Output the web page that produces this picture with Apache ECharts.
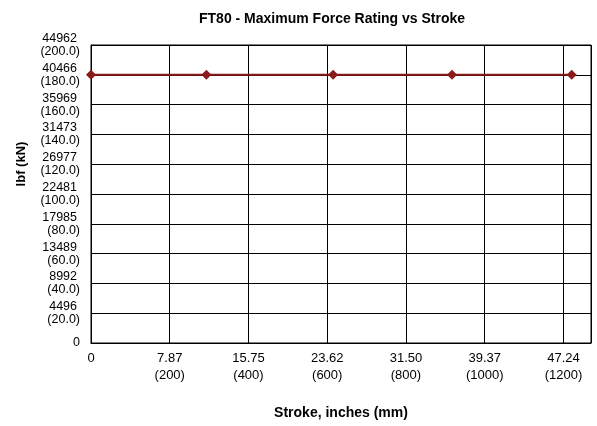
<!DOCTYPE html>
<html>
<head>
<meta charset="utf-8">
<script src="https://cdn.jsdelivr.net/npm/echarts@6/dist/echarts.min.js"></script>
<style>
  html, body { margin: 0; padding: 0; background: #ffffff; }
  #chart { width: 597px; height: 426px; }
</style>
</head>
<body>
<div id="chart"></div>
<script>
// Data (stroke in mm, force in kN)
const strokeMm = [0, 293, 615, 917, 1221];
const forceKn = [180, 180, 180, 180, 180];

// Tick labels
const xTickInches = ['0', '7.87', '15.75', '23.62', '31.50', '39.37', '47.24'];
const xTickMm = ['', '(200)', '(400)', '(600)', '(800)', '(1000)', '(1200)'];
const yTickLbf = ['0', '4496', '8992', '13489', '17985', '22481', '26977', '31473', '35969', '40466', '44962'];
const yTickKn = ['', '(20.0)', '(40.0)', '(60.0)', '(80.0)', '(100.0)', '(120.0)', '(140.0)', '(160.0)', '(180.0)', '(200.0)'];

const xInterval = 200, xMax = 1270;
const yInterval = 20, yMax = 200;

const chart = echarts.init(document.getElementById('chart'), null, { renderer: 'canvas' });
const font = 'Arial, "Liberation Sans", Helvetica, sans-serif';

chart.setOption({
  backgroundColor: '#ffffff',
  animation: false,
  title: {
    text: 'FT80 - Maximum Force Rating vs Stroke',
    left: 194,
    top: 7,
    textStyle: { fontFamily: font, fontSize: 14, fontWeight: 'bold', color: '#000' }
  },
  grid: {
    left: 91, right: 6, top: 45, bottom: 83,
    show: true, borderColor: '#000', borderWidth: 1, backgroundColor: '#fff'
  },
  xAxis: {
    type: 'value',
    min: 0, max: xMax, interval: xInterval,
    name: 'Stroke, inches (mm)',
    nameLocation: 'middle',
    nameGap: 63,
    nameTextStyle: { fontFamily: font, fontSize: 14, fontWeight: 'bold', color: '#000' },
    axisLine: { show: true, lineStyle: { color: '#000', width: 1 } },
    axisTick: { show: false },
    splitLine: { show: true, lineStyle: { color: '#000', width: 1 } },
    axisLabel: {
      showMaxLabel: false,
      margin: 7,
      fontFamily: font, fontSize: 13, color: '#000', lineHeight: 17,
      align: 'center',
      formatter: function (v) {
        const i = Math.round(v / xInterval);
        if (i >= xTickInches.length || Math.abs(v - i * xInterval) > 1e-6) return '';
        return xTickMm[i] ? xTickInches[i] + '\n' + xTickMm[i] : xTickInches[i];
      }
    }
  },
  yAxis: {
    type: 'value',
    min: 0, max: yMax, interval: yInterval,
    name: 'lbf (kN)',
    nameLocation: 'middle',
    nameGap: 63,
    nameRotate: 90,
    nameTextStyle: { fontFamily: font, fontSize: 13, fontWeight: 'bold', color: '#000', padding: [0, 0, 0, 60] },
    axisLine: { show: true, lineStyle: { color: '#000', width: 1 } },
    axisTick: { show: false },
    splitLine: { show: true, lineStyle: { color: '#000', width: 1 } },
    axisLabel: {
      margin: 11,
      fontFamily: font, fontSize: 12.5, color: '#000', lineHeight: 13,
      align: 'right',
      formatter: function (v) {
        const i = Math.round(v / yInterval);
        if (i >= yTickLbf.length) return '';
        return yTickKn[i] ? '{a|' + yTickLbf[i] + '}\n{b|' + yTickKn[i] + '}' : '{b|' + yTickLbf[i] + '}';
      },
      rich: {
        a: { fontFamily: font, fontSize: 12.5, color: '#000', lineHeight: 13, padding: [0, 3, 0, 0] },
        b: { fontFamily: font, fontSize: 12.5, color: '#000', lineHeight: 13 }
      }
    }
  },
  series: [{
    type: 'line',
    data: strokeMm.map((x, i) => [x, forceKn[i]]),
    symbol: 'diamond',
    symbolSize: 10,
    lineStyle: { color: '#8b1a1a', width: 2 },
    itemStyle: { color: '#8b1a1a' },
    clip: false
  }]
});
</script>
</body>
</html>
